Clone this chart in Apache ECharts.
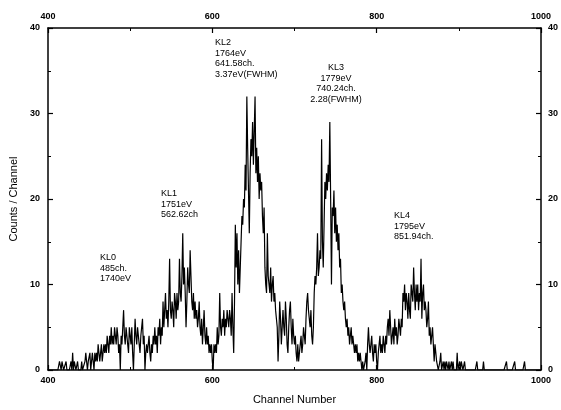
<!DOCTYPE html>
<html><head><meta charset="utf-8">
<script src="https://cdn.jsdelivr.net/npm/echarts@6/dist/echarts.min.js"></script>
<style>html,body{margin:0;padding:0;background:#fff}#c{width:561px;height:410px}</style>
</head><body><div id="c"></div>
<script>
// Channel axis: 400..1000, y axis 0..40
const xRange = [400, 1000];
const yRange = [0, 40];
const xLabelName = 'Channel Number';
const yLabelName = 'Counts / Channel';
// counts, one value per channel starting at channel 400
const firstChannel = 400;
const counts = [
  0,0,0,0,0,0,0,0,0,0,  0,0,0,0,1,1,0,1,1,0,       // 400-419
  0,0,1,0,0,0,0,0,1,0,  2,0,1,1,0,0,1,0,0,0,       // 420-439
  0,1,0,0,0,1,2,1,0,1,  1,2,0,1,2,1,0,2,1,2,       // 440-459
  1,3,2,1,2,3,1,2,3,2,  3,2,4,3,2,4,3,5,3,4,       // 460-479
  3,5,4,3,5,4,2,3,0,4,  3,5,7,4,3,5,4,3,2,5,       // 480-499
  4,3,5,2,0,3,6,4,3,5,  4,3,2,4,5,6,3,4,0,2,       // 500-519
  3,2,3,4,2,1,3,2,4,3,  5,3,4,2,5,4,6,3,5,4,       // 520-539
  8,5,7,9,6,7,5,8,13,7, 6,8,7,5,9,8,6,9,7,8,       // 540-559
  13,9,8,11,16,10,12,9,5,8, 12,10,9,14,11,8,7,9,6,8, // 560-579
  6,7,5,6,8,5,4,6,3,5,  7,4,3,5,3,4,2,3,2,3,       // 580-599
  1,0,3,2,3,2,5,3,4,9,  5,4,6,5,7,4,6,5,7,6,       // 600-619
  5,7,6,4,9,5,2,8,17,12, 16,10,14,9,12,15,18,17,20,19, // 620-639
  24,21,32,26,21,16,23,27,25,29, 24,28,32,23,26,22,25,20,23,21, // 640-659
  22,18,16,19,12,10,9,16,11,10, 9,12,8,10,11,8,9,7,6,5, // 660-679
  1,4,8,6,3,5,7,5,4,8,  6,3,2,5,7,8,5,3,6,4,       // 680-699
  3,4,2,1,3,1,2,3,4,2,  3,5,4,3,6,8,9,7,6,5,       // 700-719
  7,4,3,5,9,11,10,12,16,11, 12,14,13,27,15,12,17,22,20,23, // 720-739
  21,24,22,29,20,10,19,18,21,16, 19,15,17,14,16,12,13,9,10,8, // 740-759
  7,8,6,5,6,4,5,3,4,5,  3,4,3,2,3,2,3,1,2,1,       // 760-779
  2,1,0,1,0,0,1,2,0,3,  5,3,2,3,4,2,1,3,2,3,       // 780-799
  1,0,2,3,4,2,3,2,4,3,  2,4,3,5,6,4,7,5,3,4,       // 800-819
  5,3,6,4,5,3,4,6,5,4,  6,5,9,8,10,7,9,8,6,9,      // 820-839
  7,6,10,9,8,12,9,7,10,8, 10,7,9,8,13,6,9,10,7,8,  // 840-859
  7,5,6,8,4,5,3,4,5,3,  1,3,2,1,1,0,0,1,2,0,       // 860-879
  0,1,0,1,0,1,1,0,1,0,  0,1,0,1,0,0,0,0,2,0,       // 880-899
  0,1,0,1,1,0,0,1,0,0,  0,0,0,0,0,0,0,0,0,0,       // 900-919
  0,0,1,0,0,0,0,0,0,0,  1,0,0,0,0,0,0,0,0,0,       // 920-939
  0,0,0,0,0,0,0,0,0,0,  0,0,0,0,0,0,0,0,1,0,       // 940-959
  0,0,0,0,0,0,0,0,1,0,  0,0,0,0,0,0,0,0,0,0,       // 960-979
  1,0,0,0,0,0,0,0,0,0,  0,0,0,0,0,0,0,0,0,0,       // 980-999
  0                                                // 1000
];
const peakLabels = [
  ['KL0','485ch.','1740eV'],
  ['KL1','1751eV','562.62ch'],
  ['KL2','1764eV','641.58ch.','3.37eV(FWHM)'],
  ['KL3','1779eV','740.24ch.','2.28(FWHM)'],
  ['KL4','1795eV','851.94ch.']
];

const spectrum = counts.map((v, i) => [firstChannel + i, v]);

const FONT = 'Liberation Sans, Arial, sans-serif';
const axisCommon = {
  axisLine: { show: true, onZero: false, lineStyle: { color: '#000', width: 1.5 } },
  axisTick: { show: true, inside: true, length: 5, lineStyle: { color: '#000', width: 1.2 } },
  minorTick: { show: true, splitNumber: 2, length: 3, lineStyle: { color: '#000', width: 1 } },
  splitLine: { show: false },
  axisLabel: { color: '#000', fontFamily: FONT, fontSize: 9, fontWeight: 'bold', formatter: v => String(v) }
};

const chart = echarts.init(document.getElementById('c'), null, { renderer: 'canvas' });

function textBlock(lines, x, y, align) {
  return {
    type: 'text', x: x, y: y,
    style: {
      text: lines.join('\n'), fill: '#000', font: '9px ' + FONT,
      lineHeight: 10.8, align: align || 'left', verticalAlign: 'top'
    }
  };
}

chart.setOption({
  animation: false,
  backgroundColor: '#fff',
  grid: { left: 45, right: 20, top: 28, bottom: 38 },
  xAxis: [
    Object.assign({}, axisCommon, {
      type: 'value', position: 'bottom', min: xRange[0], max: xRange[1], interval: 200,
      name: xLabelName, nameLocation: 'middle', nameGap: 24,
      nameTextStyle: { color: '#000', fontFamily: FONT, fontSize: 11 },
      axisLabel: Object.assign({}, axisCommon.axisLabel, { margin: 6 })
    }),
    Object.assign({}, axisCommon, {
      type: 'value', position: 'top', min: xRange[0], max: xRange[1], interval: 200,
      axisLabel: Object.assign({}, axisCommon.axisLabel, { margin: 7 })
    })
  ],
  yAxis: [
    Object.assign({}, axisCommon, {
      type: 'value', position: 'left', min: yRange[0], max: yRange[1], interval: 10,
      name: yLabelName, nameLocation: 'middle', nameGap: 29, nameRotate: 90,
      nameTextStyle: { color: '#000', fontFamily: FONT, fontSize: 11 },
      axisLabel: Object.assign({}, axisCommon.axisLabel, { margin: 8 })
    }),
    Object.assign({}, axisCommon, {
      type: 'value', position: 'right', min: yRange[0], max: yRange[1], interval: 10,
      axisLabel: Object.assign({}, axisCommon.axisLabel, { margin: 7 })
    })
  ],
  series: [{
    type: 'line', data: spectrum, xAxisIndex: 0, yAxisIndex: 0,
    showSymbol: false, symbol: 'none',
    lineStyle: { color: '#000', width: 1.2 }
  }],
  graphic: [
    textBlock(peakLabels[0], 100, 252),
    textBlock(peakLabels[1], 161, 188),
    textBlock(peakLabels[2], 215, 37),
    textBlock(peakLabels[3], 336, 62, 'center'),
    textBlock(peakLabels[4], 394, 210)
  ]
});
</script>
</body></html>
